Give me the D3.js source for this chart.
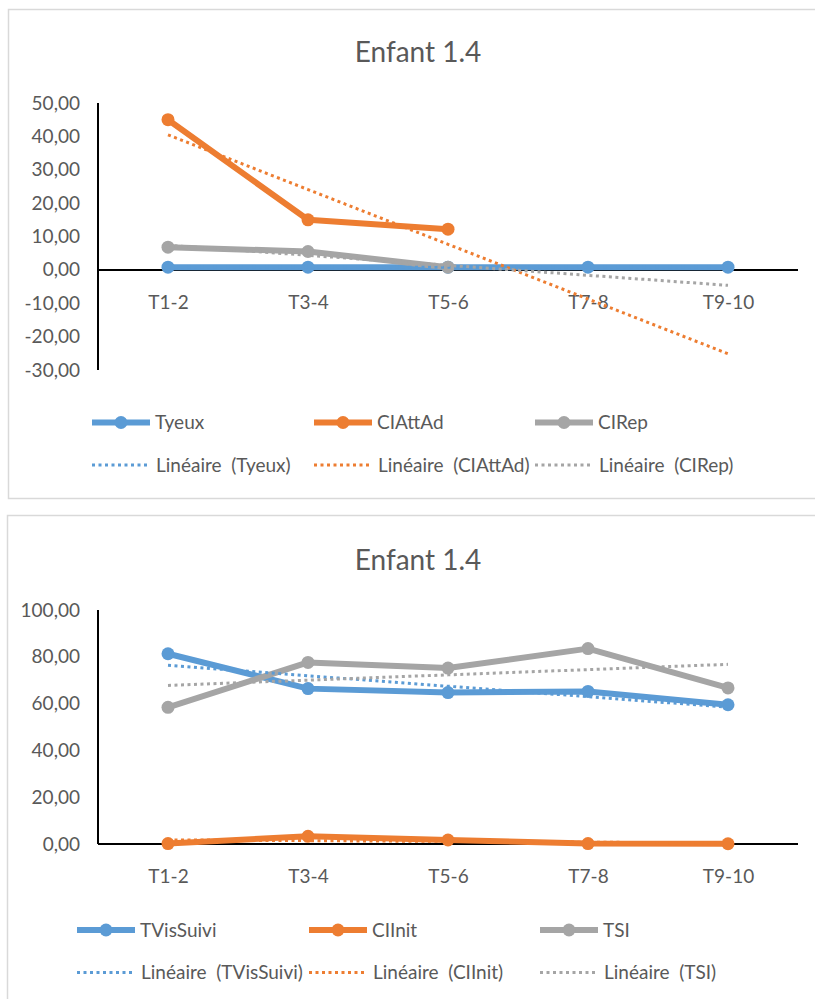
<!DOCTYPE html>
<html>
<head>
<meta charset="utf-8">
<script src="https://cdn.jsdelivr.net/npm/d3@7"></script>
<style>
  html, body { margin: 0; padding: 0; background: #fff; }
  svg { display: block; }
  text { font-family: Lato, "Open Sans", sans-serif; fill: #595959; white-space: pre; }
</style>
</head>
<body>
<svg id="chart" width="815" height="999"></svg>
<script>
// Periods shared by both charts
const periods = ["T1-2", "T3-4", "T5-6", "T7-8", "T9-10"];

// Chart 1 series (null = no measurement)
const tyeux   = [0.8, 0.8, 0.8, 0.8, 0.8];
const ciAttAd = [45.0, 15.0, 12.2, null, null];
const ciRep   = [6.8, 5.5, 0.8, null, null];
const topTicks = [50, 40, 30, 20, 10, 0, -10, -20, -30];

// Chart 2 series
const tVisSuivi = [81.3, 66.4, 64.7, 65.2, 59.5];
const ciInit    = [0.2, 3.3, 1.7, 0.2, 0.1];
const tsi       = [58.4, 77.6, 75.2, 83.5, 66.7];
const bottomTicks = [100, 80, 60, 40, 20, 0];

const chartTitle = "Enfant 1.4";
const trendPrefix = "Linéaire  ";

const BLUE = "#5B9BD5", ORANGE = "#ED7D31", GRAY = "#A5A5A5";

const fr = d3.formatLocale({ decimal: ",", thousands: " ", grouping: [3], currency: ["", " €"], minus: "-" });
const fmt = fr.format(".2f");

const svg = d3.select("#chart");

// Ordinary least-squares fit over the available points, evaluated at every period
function trend(values) {
  const pts = values.map((v, i) => [i + 1, v]).filter(p => p[1] != null);
  const n = pts.length;
  const mx = d3.mean(pts, p => p[0]), my = d3.mean(pts, p => p[1]);
  const sxy = d3.sum(pts, p => (p[0] - mx) * (p[1] - my));
  const sxx = d3.sum(pts, p => (p[0] - mx) ** 2);
  const slope = sxy / sxx;
  return values.map((_, i) => my + slope * (i + 1 - mx));
}

function drawChart(cfg) {
  const g = svg.append("g");

  // panel frame
  g.append("rect")
    .attr("x", cfg.frame.x).attr("y", cfg.frame.y)
    .attr("width", cfg.frame.w).attr("height", cfg.frame.h)
    .attr("fill", "#fff").attr("stroke", "#D9D9D9").attr("stroke-width", 1.5);

  g.append("text")
    .attr("x", 418).attr("y", cfg.titleY).attr("dy", "0.35em")
    .attr("text-anchor", "middle").style("font-size", "28px")
    .text(chartTitle);

  const x = d3.scalePoint().domain(periods).range([168, 728]);
  const y = d3.scaleLinear().domain(cfg.domain).range(cfg.yRange);

  // value labels
  const yAxis = d3.axisLeft(y).tickValues(cfg.ticks).tickSize(0).tickPadding(18).tickFormat(fmt);
  const ya = g.append("g").attr("transform", "translate(98,0)").call(yAxis);
  ya.select(".domain").remove();
  ya.selectAll("text").style("font-size", "19px").attr("fill", "#595959").style("font-family", "Lato, sans-serif");

  // category labels
  const xAxis = d3.axisBottom(x).tickSize(0).tickPadding(26);
  const xa = g.append("g").attr("transform", `translate(0,${y(0)})`).call(xAxis);
  xa.select(".domain").remove();
  xa.selectAll("text").style("font-size", "19px").attr("fill", "#595959").style("font-family", "Lato, sans-serif");

  // axis lines
  g.append("line").attr("x1", 98).attr("x2", 98)
    .attr("y1", y(cfg.domain[1])).attr("y2", y(cfg.domain[0]))
    .attr("stroke", "#000").attr("stroke-width", 2);
  g.append("line").attr("x1", 98).attr("x2", 798)
    .attr("y1", y(0)).attr("y2", y(0))
    .attr("stroke", "#000").attr("stroke-width", 2);

  const line = d3.line()
    .defined(d => d.v != null)
    .x(d => x(d.p)).y(d => y(d.v));

  cfg.series.forEach(s => {
    const data = s.values.map((v, i) => ({ p: periods[i], v }));
    g.append("path").datum(data)
      .attr("d", line).attr("fill", "none")
      .attr("stroke", s.color).attr("stroke-width", 6)
      .attr("stroke-linejoin", "round").attr("stroke-linecap", "round");
    g.selectAll(null).data(data.filter(d => d.v != null)).join("circle")
      .attr("cx", d => x(d.p)).attr("cy", d => y(d.v)).attr("r", 6.5)
      .attr("fill", s.color);
  });

  cfg.series.forEach(s => {
    const t = trend(s.values).map((v, i) => ({ p: periods[i], v }));
    g.append("path").datum(t)
      .attr("d", line).attr("fill", "none")
      .attr("stroke", s.color).attr("stroke-width", 3)
      .attr("stroke-dasharray", "3 3.5");
  });

  // legend
  cfg.series.forEach((s, i) => {
    const lx = cfg.legendX[i];
    const r1 = cfg.legendY[0], r2 = cfg.legendY[1];
    g.append("line").attr("x1", lx).attr("x2", lx + 58).attr("y1", r1).attr("y2", r1)
      .attr("stroke", s.color).attr("stroke-width", 6);
    g.append("circle").attr("cx", lx + 29).attr("cy", r1).attr("r", 6.5).attr("fill", s.color);
    g.append("text").attr("x", lx + 63).attr("y", r1).attr("dy", "0.35em")
      .style("font-size", "19px").text(s.name);

    g.append("line").attr("x1", lx).attr("x2", lx + 56).attr("y1", r2).attr("y2", r2)
      .attr("stroke", s.color).attr("stroke-width", 3).attr("stroke-dasharray", "3 3.5");
    g.append("text").attr("x", lx + 64).attr("y", r2).attr("dy", "0.35em")
      .style("font-size", "19px").text(trendPrefix + "(" + s.name + ")");
  });
}

drawChart({
  frame: { x: 8.5, y: 9.5, w: 830, h: 489 },
  titleY: 52,
  domain: [-30, 50],
  yRange: [370, 103],
  ticks: topTicks,
  series: [
    { name: "Tyeux", values: tyeux, color: BLUE },
    { name: "CIAttAd", values: ciAttAd, color: ORANGE },
    { name: "CIRep", values: ciRep, color: GRAY }
  ],
  legendX: [92, 314, 535],
  legendY: [422.5, 465]
});

drawChart({
  frame: { x: 7.5, y: 515.5, w: 830, h: 520 },
  titleY: 560,
  domain: [0, 100],
  yRange: [844, 610],
  ticks: bottomTicks,
  series: [
    { name: "TVisSuivi", values: tVisSuivi, color: BLUE },
    { name: "CIInit", values: ciInit, color: ORANGE },
    { name: "TSI", values: tsi, color: GRAY }
  ],
  legendX: [77, 309, 540],
  legendY: [930, 972.5]
});
</script>
</body>
</html>
